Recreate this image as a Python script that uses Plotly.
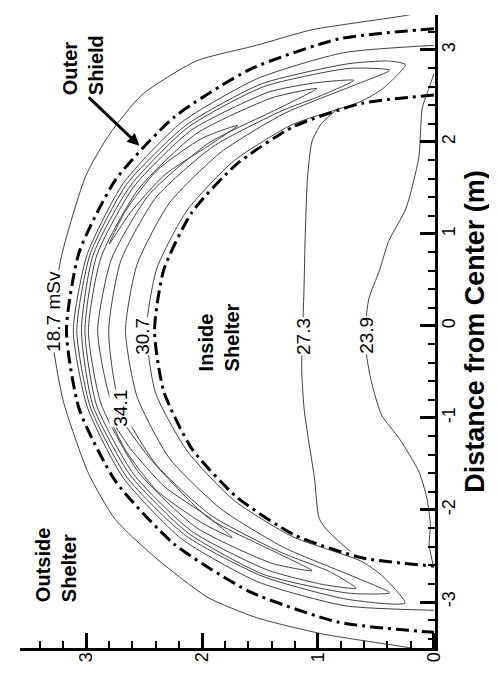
import plotly.graph_objects as go

# ---- data (distance from center d [m], height h [m]) ----
# outermost dose contour (18.7 mSv)
c187_d = [3.45, 3.38, 3.22, 3.05, 2.88, 2.51, 2.08, 1.64, 0.77, 0.0, -0.8, -1.6, -2.1, -2.52, -2.95, -3.17, -3.35, -3.5, -3.56]
c187_h = [0.0, 0.22, 1.05, 1.53, 2.05, 2.52, 2.80, 3.00, 3.21, 3.30, 3.20, 2.98, 2.75, 2.40, 1.95, 1.53, 0.95, 0.2, 0.0]
# contour just inside the outer shield
l3_d = [3.05, 2.97, 2.69, 2.21, 1.55, 0.78, -0.05, -0.88, -1.65, -2.31, -2.78, -3.04, -3.09]
l3_h = [0.0, 0.78, 1.52, 2.18, 2.68, 2.99, 3.11, 2.99, 2.68, 2.18, 1.52, 0.77, 0.0]
# horseshoe contours inside the shield wall
h1_d = [2.84, 2.88, 2.85, 2.63, 2.18, 1.54, 0.78, -0.05, -0.875, -1.64, -2.28, -2.72, -2.97, -3.01,
        -2.71, -2.555, -2.29, -1.89, -1.355, -0.73, -0.05, 0.625, 1.255, 1.79, 2.19, 2.44, 2.58, 2.84]
h1_h = [0.245, 0.39, 0.74, 1.49, 2.14, 2.65, 2.965, 3.08, 2.965, 2.65, 2.14, 1.48, 0.75, 0.25,
        0.45, 0.63, 1.22, 1.73, 2.13, 2.40, 2.48, 2.39, 2.13, 1.73, 1.22, 0.63, 0.44, 0.245]
h2_d = [2.78, 2.80, 2.60, 2.16, 1.52, 0.77, -0.05, -0.87, -1.62, -2.25, -2.70, -2.905, -2.90,
        -2.73, -2.41, -1.99, -1.44, -0.77, -0.05, 0.67, 1.34, 1.89, 2.31, 2.62, 2.78]
h2_h = [0.38, 0.73, 1.47, 2.12, 2.62, 2.94, 3.04, 2.94, 2.62, 2.12, 1.47, 0.73, 0.38,
        0.68, 1.29, 1.835, 2.28, 2.56, 2.66, 2.56, 2.28, 1.835, 1.29, 0.68, 0.38]
h3_d = [2.67, 2.64, 2.54, 2.13, 1.51, 0.76, -0.05, -0.86, -1.61, -2.23, -2.65, -2.81, -2.85,
        -2.67, -2.46, -2.06, -1.50, -0.81, -0.05, 0.71, 1.40, 1.95, 2.34, 2.50, 2.67]
h3_h = [0.69, 1.04, 1.43, 2.09, 2.59, 2.91, 3.01, 2.91, 2.59, 2.09, 1.44, 0.955, 0.67,
        0.90, 1.32, 1.92, 2.40, 2.72, 2.805, 2.70, 2.395, 1.905, 1.31, 0.98, 0.69]
h4_d = [2.58, 2.48, 2.09, 1.485, 0.75, -0.05, -0.85, -1.585, -2.19, -2.58, -2.66,
        -2.48, -2.09, -1.43, -0.83, -0.05, 0.73, 1.43, 1.99, 2.37, 2.58]
h4_h = [1.01, 1.395, 2.05, 2.55, 2.87, 2.98, 2.87, 2.55, 2.05, 1.395, 1.05,
        1.33, 1.94, 2.455, 2.78, 2.90, 2.78, 2.455, 1.94, 1.33, 1.01]
h5a_d = [2.18, 2.04, 1.69, 1.25, 0.89, 1.23, 1.645, 1.97, 2.18]
h5a_h = [1.69, 2.00, 2.39, 2.66, 2.80, 2.62, 2.32, 1.93, 1.69]
h5b_d = [-2.30, -2.14, -1.79, -1.35, -0.99, -1.33, -1.75, -2.08, -2.30]
h5b_h = [1.74, 2.00, 2.39, 2.66, 2.80, 2.62, 2.32, 1.94, 1.74]
# contours inside the shelter
c273_d = [2.37, 2.20, 2.01, 1.61, 0.96, 0.41, 0.0, -0.46, -0.89, -1.25, -1.65, -2.09, -2.22, -2.34, -2.45]
c273_h = [0.82, 0.97, 1.05, 1.09, 1.11, 1.12, 1.13, 1.14, 1.12, 1.08, 1.03, 0.99, 0.92, 0.82, 0.72]
c239_d = [2.74, 2.59, 2.37, 1.83, 1.28, 0.92, 0.60, 0.30, 0.0, -0.32, -0.60, -0.97, -1.22, -1.58, -1.87, -2.16, -2.38, -2.63]
c239_h = [0.0, 0.04, 0.10, 0.13, 0.24, 0.39, 0.47, 0.56, 0.59, 0.58, 0.54, 0.45, 0.30, 0.13, 0.06, 0.03, 0.04, 0.0]
# shields
outer_d = [3.23, 3.12, 2.79, 2.27, 1.59, 0.80, -0.05, -0.90, -1.69, -2.37, -2.89, -3.22, -3.33]
outer_h = [0.0, 0.82, 1.585, 2.24, 2.745, 3.06, 3.17, 3.06, 2.745, 2.24, 1.585, 0.82, 0.0]
inner_d = [2.51, 2.42, 2.17, 1.76, 1.23, 0.61, -0.05, -0.71, -1.33, -1.86, -2.27, -2.52, -2.61]
inner_h = [0.0, 0.62, 1.205, 1.70, 2.09, 2.33, 2.41, 2.33, 2.09, 1.70, 1.205, 0.62, 0.0]

# contour labels
label_text = ["18.7 mSv", "34.1", "30.7", "27.3", "23.9"]
label_h = [3.28, 2.70, 2.52, 1.13, 0.58]
label_d = [0.16, -0.89, -0.11, -0.11, -0.10]

# axis ticks
d_ticks = [-3, -2, -1, 0, 1, 2, 3]
d_ticktext = ["-3", "-2", "-1", "0", "1", "2", "3"]
h_ticks = [0, 1, 2, 3]
h_ticktext = ["0", "1", "2", "3"]

FONT = "Liberation Sans, Arial, Helvetica, sans-serif"

fig = go.Figure()
contours = [(c187_d, c187_h), (l3_d, l3_h), (h1_d, h1_h), (h2_d, h2_h), (h3_d, h3_h),
            (h4_d, h4_h), (h5a_d, h5a_h), (h5b_d, h5b_h), (c273_d, c273_h), (c239_d, c239_h)]
for dd, hh in contours:
    fig.add_trace(go.Scatter(x=hh, y=dd, mode="lines",
                             line=dict(color="#404040", width=1, shape="spline", smoothing=0.6),
                             hoverinfo="skip", showlegend=False))
for dd, hh in [(outer_d, outer_h), (inner_d, inner_h)]:
    fig.add_trace(go.Scatter(x=hh, y=dd, mode="lines",
                             line=dict(color="black", width=3, dash="13px,5px,3px,5px",
                                       shape="spline", smoothing=0.6),
                             hoverinfo="skip", showlegend=False))

ann = []
for t, hx, dy in zip(label_text, label_h, label_d):
    ann.append(dict(x=hx, y=dy, xref="x", yref="y", text=t, showarrow=False, textangle=-90,
                    font=dict(size=19, family=FONT, color="black"), bgcolor="white", borderpad=0,
                    xanchor="center", yanchor="middle"))
region_labels = [("<b>Outer<br>Shield</b>", 3.03, 2.83), ("<b>Outside<br>Shelter</b>", 3.26, -2.60),
                 ("<b>Inside<br>Shelter</b>", 1.85, -0.12)]
for t, hx, dy in region_labels:
    ann.append(dict(x=hx, y=dy, xref="x", yref="y", text=t, showarrow=False, textangle=-90, align="left",
                    font=dict(size=20, family=FONT, color="black"), xanchor="center", yanchor="middle"))
ann.append(dict(x=2.54, y=1.96, xref="x", yref="y", ax=2.99, ay=2.50, axref="x", ayref="y", text="",
                showarrow=True, arrowhead=2, arrowwidth=3, arrowsize=0.8, arrowcolor="black", standoff=0))

fig.update_layout(width=497, height=676, margin=dict(l=12, r=70, t=7, b=36),
                  paper_bgcolor="white", plot_bgcolor="white", showlegend=False,
                  font=dict(family=FONT, color="black"), annotations=ann)
fig.update_xaxes(range=[3.57, -0.01], showline=True, linecolor="black", linewidth=3, mirror=False,
                 ticks="inside", ticklen=15, tickwidth=3, tickcolor="black",
                 tickvals=h_ticks, ticktext=h_ticktext, tickangle=-90, tickfont=dict(size=18),
                 ticklabelstandoff=-6,
                 showgrid=False, zeroline=False,
                 minor=dict(ticks="inside", ticklen=7, tickwidth=2, tickcolor="black", dtick=0.2, tick0=0, showgrid=False))
fig.update_yaxes(range=[-3.5, 3.38], side="right", showline=True, linecolor="black", linewidth=3, mirror=False,
                 ticks="inside", ticklen=15, tickwidth=3, tickcolor="black",
                 tickvals=d_ticks, ticktext=d_ticktext, tickangle=-90, tickfont=dict(size=18),
                 ticklabelstandoff=-5,
                 showgrid=False, zeroline=False,
                 minor=dict(ticks="inside", ticklen=7, tickwidth=2, tickcolor="black", dtick=0.2, tick0=0, showgrid=False),
                 title=dict(text="<b>Distance from Center (m)</b>", font=dict(size=27), standoff=8))
fig.write_html("out.html")
